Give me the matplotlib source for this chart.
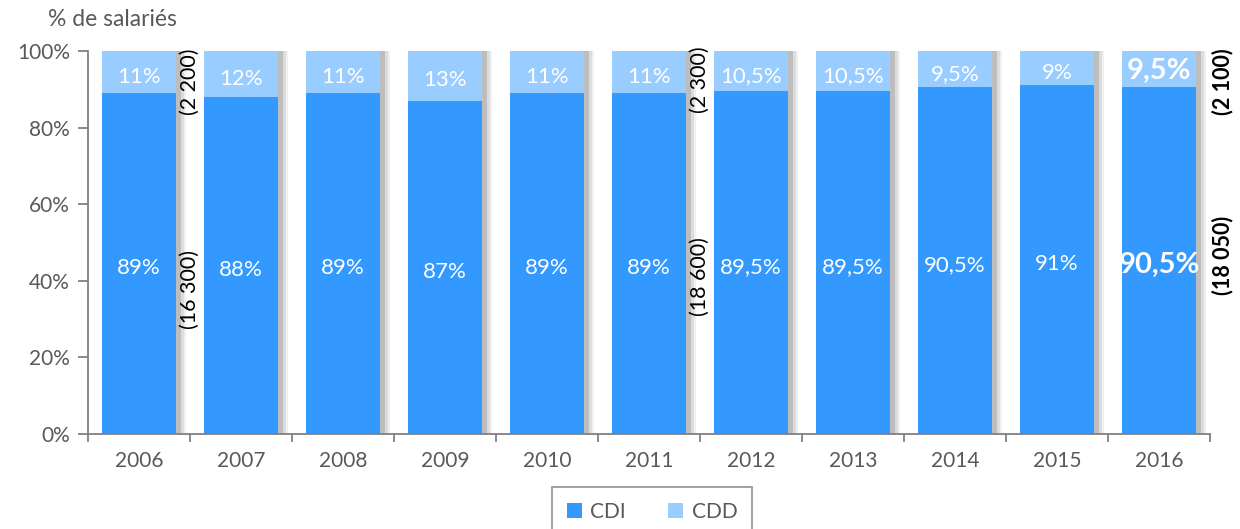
import matplotlib
matplotlib.use("Agg")
import matplotlib.pyplot as plt
import numpy as np

years = ["2006", "2007", "2008", "2009", "2010", "2011", "2012", "2013", "2014", "2015", "2016"]
cdi = [89, 88, 89, 87, 89, 89, 89.5, 89.5, 90.5, 91, 90.5]
cdd = [11, 12, 11, 13, 11, 11, 10.5, 10.5, 9.5, 9, 9.5]
yticks = [0, 20, 40, 60, 80, 100]
# effectifs annotations: (position between bars, cdd text, cdi text, bold)
eff_pos = [0.5, 5.5, 10.62]
eff_cdd = ["(2 200)", "(2 300)", "(2 100)"]
eff_cdi = ["(16 300)", "(18 600)", "(18 050)"]
eff_bold = [False, False, True]
eff_cdd_y = [92, 92.5, 92]
eff_cdi_y = [37.6, 41, 46.7]

plt.rcParams['font.family'] = ['Lato', 'DejaVu Sans']

C_CDI = "#3399FF"
C_CDD = "#99CCFF"
GRAY_TXT = "#595959"

fig = plt.figure(figsize=(12.4, 5.29), dpi=100)
ax = fig.add_axes([88/1240, 1-434/529, (1210-88)/1240, (434-51)/529])

x = np.arange(len(years))
w = 0.735
# shadows
for dx, col in [(0.095, "#f0f0f0"), (0.07, "#dcdcdc"), (0.045, "#bdbdbd")]:
    ax.bar(x + dx, [a + b for a, b in zip(cdi, cdd)], width=w, color=col, zorder=1, linewidth=0)
ax.bar(x, cdi, width=w, color=C_CDI, zorder=2, linewidth=0, label="CDI")
ax.bar(x, cdd, bottom=cdi, width=w, color=C_CDD, zorder=2, linewidth=0, label="CDD")

def fmt(v):
    s = ("%g" % v).replace(".", ",")
    return s + "%"

for i in range(len(years)):
    big = (i == len(years) - 1)
    fs = 21 if big else 16
    fw = "bold" if big else "normal"
    ax.text(x[i], cdi[i] / 2 - 1.2, fmt(cdi[i]), ha="center", va="center", color="white",
            fontsize=fs, fontweight=fw, zorder=3)
    ax.text(x[i], cdi[i] + cdd[i] / 2 - (0.5 if big else 1.2), fmt(cdd[i]), ha="center", va="center",
            color="white", fontsize=fs, fontweight=fw, zorder=3)

for p, t1, t2, b, y1, y2 in zip(eff_pos, eff_cdd, eff_cdi, eff_bold, eff_cdd_y, eff_cdi_y):
    fw = "bold" if b else "normal"
    ax.text(p, y1, t1, rotation=90, ha="center", va="center", fontsize=15.5,
            fontweight=fw, color="black", zorder=4, clip_on=False)
    ax.text(p, y2, t2, rotation=90, ha="center", va="center", fontsize=15.5,
            fontweight=fw, color="black", zorder=4, clip_on=False)

ax.set_xlim(-0.5, len(years) - 0.5)
ax.set_ylim(0, 100)
ax.set_yticks(yticks)
ax.set_yticklabels([f"{v}%" for v in yticks], fontsize=15, color=GRAY_TXT)
ax.set_xticks(x)
ax.set_xticklabels(years, fontsize=15, color=GRAY_TXT)
ax.set_xticks(np.arange(-0.5, len(years)), minor=True)
ax.tick_params(axis="x", which="major", length=0, pad=12)
ax.tick_params(axis="x", which="minor", length=6, color="#808080", width=1.3)
ax.tick_params(axis="y", length=7, color="#808080", width=1.3, pad=6)
for s in ["top", "right"]:
    ax.spines[s].set_visible(False)
for s in ["left", "bottom"]:
    ax.spines[s].set_color("#808080")
    ax.spines[s].set_linewidth(1.3)

fig.text(48/1240, 1-20/529, "% de salariés", fontsize=16.5, color=GRAY_TXT, va="center", ha="left")

leg = fig.legend(loc="upper center", bbox_to_anchor=(652/1240, 1-487/529), ncol=2,
                 fontsize=15, frameon=True, fancybox=False, handlelength=0.75, handleheight=0.75,
                 borderpad=0.7, borderaxespad=0, columnspacing=2.0, handletextpad=0.4)
leg.get_frame().set_edgecolor("#808080")
leg.get_frame().set_linewidth(1.3)
for t in leg.get_texts():
    t.set_color(GRAY_TXT)

fig.savefig("out.png", dpi=100)
